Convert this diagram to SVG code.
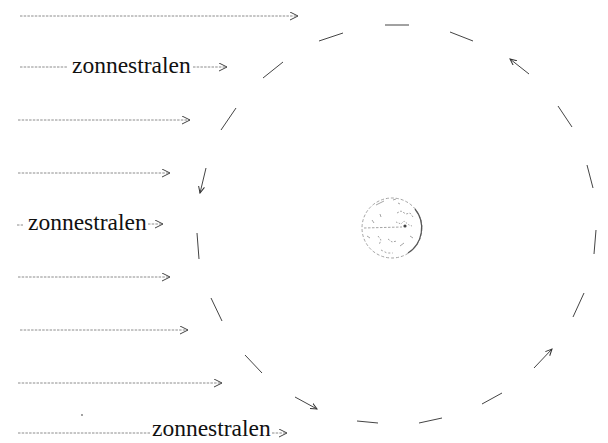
<svg xmlns="http://www.w3.org/2000/svg" width="608" height="443" viewBox="0 0 608 443">
  <style>
    .ray { stroke: #8c8c8c; stroke-width: 1; fill: none; stroke-dasharray: 2.5 1.2; }
    .label { font-family: "Liberation Serif", "Times New Roman", serif; font-size: 23.5px; fill: #111; }
    .orbit { stroke: #444; stroke-width: 1; fill: none; }
    .globe { stroke: #9a9a9a; stroke-width: 0.9; fill: none; }
  </style>
  <defs>
    <marker id="rayHead" markerUnits="userSpaceOnUse" markerWidth="10" markerHeight="10" refX="8" refY="4.5" orient="auto">
      <path d="M0,0.5 L8,4.5 L0,8.5" fill="none" stroke="#444" stroke-width="1"/>
    </marker>
    <marker id="orbitHead" markerUnits="userSpaceOnUse" markerWidth="8" markerHeight="8" refX="6.5" refY="3.5" orient="auto">
      <path d="M0,0.5 L6.5,3.5 L0,6.5" fill="none" stroke="#333" stroke-width="1"/>
    </marker>
  </defs>

  <!-- sun rays coming in from the left -->
  <g id="rays">
    <line class="ray" x1="20" y1="16" x2="298" y2="16" marker-end="url(#rayHead)"/>
    <line class="ray" x1="20" y1="67" x2="68" y2="67"/>
    <line class="ray" x1="193" y1="67" x2="227" y2="67" marker-end="url(#rayHead)"/>
    <line class="ray" x1="18" y1="120" x2="190" y2="120" marker-end="url(#rayHead)"/>
    <line class="ray" x1="18" y1="173" x2="170" y2="173" marker-end="url(#rayHead)"/>
    <line class="ray" x1="17" y1="225" x2="23" y2="225"/>
    <line class="ray" x1="148" y1="224" x2="163" y2="224" marker-end="url(#rayHead)"/>
    <line class="ray" x1="18" y1="277" x2="170" y2="277" marker-end="url(#rayHead)"/>
    <line class="ray" x1="20" y1="330" x2="188" y2="330" marker-end="url(#rayHead)"/>
    <line class="ray" x1="18" y1="383" x2="222" y2="383" marker-end="url(#rayHead)"/>
    <line class="ray" x1="18" y1="433" x2="150" y2="433"/>
    <line class="ray" x1="272" y1="433" x2="287" y2="433" marker-end="url(#rayHead)"/>
  </g>

  <g id="label-top">
    <text class="label" x="72" y="73">zonnestralen</text>
  </g>
  <g id="label-middle">
    <text class="label" x="28" y="230">zonnestralen</text>
  </g>
  <g id="label-bottom">
    <text class="label" x="152" y="436">zonnestralen</text>
  </g>

  <!-- stray speck -->
  <circle cx="82" cy="415" r="0.9" fill="#777"/>

  <!-- dashed orbit, moving anticlockwise -->
  <g id="orbit">
    <line class="orbit" x1="385" y1="25" x2="409" y2="25"/>
    <line class="orbit" x1="319" y1="41" x2="343" y2="33"/>
    <line class="orbit" x1="450" y1="32" x2="473" y2="41"/>
    <line class="orbit" x1="263" y1="78" x2="283" y2="62"/>
    <line class="orbit" x1="529" y1="74" x2="510" y2="59" marker-end="url(#orbitHead)"/>
    <line class="orbit" x1="221" y1="130" x2="236" y2="108"/>
    <line class="orbit" x1="558" y1="106" x2="572" y2="127"/>
    <line class="orbit" x1="206" y1="168" x2="200" y2="193" marker-end="url(#orbitHead)"/>
    <line class="orbit" x1="587" y1="165" x2="593" y2="188"/>
    <line class="orbit" x1="197" y1="233" x2="199" y2="259"/>
    <line class="orbit" x1="596" y1="230" x2="594" y2="254"/>
    <line class="orbit" x1="211" y1="298" x2="222" y2="321"/>
    <line class="orbit" x1="584" y1="293" x2="573" y2="317"/>
    <line class="orbit" x1="245" y1="355" x2="262" y2="373"/>
    <line class="orbit" x1="534" y1="368" x2="552" y2="349" marker-end="url(#orbitHead)"/>
    <line class="orbit" x1="295" y1="397" x2="317" y2="409" marker-end="url(#orbitHead)"/>
    <line class="orbit" x1="482" y1="404" x2="502" y2="393"/>
    <line class="orbit" x1="357" y1="421" x2="378" y2="423"/>
    <line class="orbit" x1="419" y1="423" x2="442" y2="418"/>
  </g>

  <!-- the earth at the centre -->
  <g id="earth">
    <circle class="globe" cx="392" cy="228" r="30" stroke="#cfcfcf" stroke-dasharray="3 2"/>
    <path d="M415,209 A30,30 0 0 1 408,253" stroke="#555" stroke-width="1.2" fill="none"/>
    <path d="M376,205 L384,201" class="globe"/>
    <path d="M393,200 l3,-1 M398,203 l2,1" class="globe"/>
    <path d="M397,213 l4,-2 l5,3 l4,-1 l3,4" class="globe" stroke="#777" stroke-dasharray="2 1.5"/>
    <path d="M396,222 l5,2 l3,-3 l5,4 l3,1" class="globe" stroke="#888" stroke-dasharray="1.5 1.5"/>
    <path d="M364,228 L402,227" class="globe" stroke="#777" stroke-dasharray="2.5 1.5"/>
    <circle cx="405" cy="226" r="1.6" fill="#444"/>
    <path d="M372,220 l2,3 M380,214 l1,3 M367,236 l3,2" class="globe"/>
    <path d="M378,236 l3,4 l-2,5 M388,239 l4,3 l5,-1" class="globe" stroke-dasharray="2 1.5"/>
    <path d="M381,250 l6,3 l6,0" class="globe" stroke-dasharray="2 2"/>
    <path d="M400,246 l4,-3 M410,236 l3,2" class="globe"/>
  </g>
</svg>
